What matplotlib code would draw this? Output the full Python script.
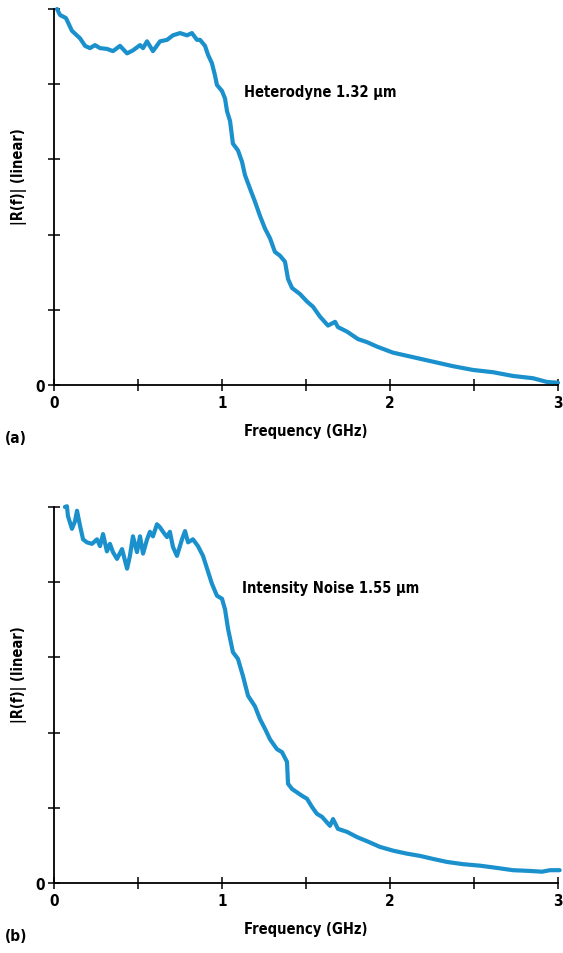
import numpy as np
import matplotlib.pyplot as plt

# Heterodyne 1.32 um response (GHz, linear units)
freq_a = [0.018, 0.036, 0.071, 0.107, 0.155, 0.185, 0.214, 0.244, 0.274, 0.315,
          0.351, 0.393, 0.435, 0.470, 0.512, 0.530, 0.554, 0.589, 0.631, 0.673,
          0.708, 0.750, 0.792, 0.821, 0.851, 0.869, 0.899, 0.917, 0.940, 0.958,
          0.970, 1.000, 1.018, 1.030, 1.048, 1.065, 1.095, 1.119, 1.137, 1.167,
          1.196, 1.226, 1.256, 1.286, 1.315, 1.345, 1.375, 1.393, 1.417, 1.464,
          1.506, 1.542, 1.583, 1.631, 1.673, 1.690, 1.744, 1.810, 1.863, 1.923,
          2.018, 2.137, 2.256, 2.375, 2.494, 2.613, 2.732, 2.851, 2.935, 3.000]
resp_a = [5.00, 4.92, 4.88, 4.71, 4.61, 4.51, 4.48, 4.52, 4.48, 4.47,
          4.44, 4.51, 4.41, 4.45, 4.52, 4.48, 4.57, 4.44, 4.57, 4.59,
          4.65, 4.68, 4.65, 4.68, 4.59, 4.59, 4.51, 4.39, 4.28, 4.12,
          3.99, 3.91, 3.81, 3.64, 3.51, 3.21, 3.12, 2.97, 2.79, 2.61,
          2.44, 2.25, 2.08, 1.95, 1.77, 1.72, 1.64, 1.41, 1.29, 1.21,
          1.11, 1.04, 0.91, 0.79, 0.84, 0.77, 0.71, 0.61, 0.57, 0.51,
          0.43, 0.37, 0.31, 0.25, 0.20, 0.17, 0.12, 0.09, 0.04, 0.03]

# Intensity noise 1.55 um response
freq_b = [0.065, 0.077, 0.083, 0.107, 0.125, 0.137, 0.155, 0.173, 0.196, 0.226,
          0.256, 0.274, 0.292, 0.315, 0.333, 0.351, 0.375, 0.405, 0.435, 0.452,
          0.470, 0.494, 0.512, 0.530, 0.554, 0.571, 0.589, 0.613, 0.631, 0.649,
          0.673, 0.690, 0.708, 0.732, 0.762, 0.780, 0.798, 0.827, 0.857, 0.887,
          0.917, 0.940, 0.970, 1.000, 1.018, 1.036, 1.065, 1.095, 1.125, 1.155,
          1.196, 1.226, 1.256, 1.286, 1.327, 1.357, 1.387, 1.393, 1.417, 1.476,
          1.506, 1.536, 1.565, 1.595, 1.643, 1.661, 1.690, 1.744, 1.804, 1.869,
          1.940, 2.018, 2.101, 2.179, 2.256, 2.339, 2.435, 2.536, 2.637, 2.732,
          2.833, 2.905, 2.952, 3.010]
resp_b = [5.00, 5.01, 4.88, 4.71, 4.81, 4.95, 4.75, 4.57, 4.53, 4.51,
          4.57, 4.48, 4.64, 4.41, 4.51, 4.40, 4.31, 4.44, 4.18, 4.35,
          4.61, 4.40, 4.61, 4.38, 4.57, 4.67, 4.61, 4.77, 4.73, 4.67,
          4.60, 4.67, 4.47, 4.35, 4.57, 4.68, 4.53, 4.57, 4.48, 4.35,
          4.14, 3.98, 3.82, 3.78, 3.64, 3.38, 3.07, 2.98, 2.75, 2.49,
          2.35, 2.18, 2.05, 1.91, 1.78, 1.74, 1.61, 1.32, 1.25, 1.16,
          1.12, 1.01, 0.92, 0.88, 0.76, 0.85, 0.72, 0.68, 0.61, 0.55,
          0.48, 0.43, 0.39, 0.36, 0.32, 0.28, 0.25, 0.23, 0.20, 0.17,
          0.16, 0.15, 0.17, 0.17]

panels = [
    (freq_a, resp_a, "Heterodyne 1.32 µm", 1.13, 3.9, "(a)"),
    (freq_b, resp_b, "Intensity Noise 1.55 µm", 1.12, 3.93, "(b)"),
]

plt.rcParams['font.family'] = ['DejaVu Sans']
plt.rcParams['font.stretch'] = 'condensed'
plt.rcParams['font.weight'] = 'bold'

fig = plt.figure(figsize=(5.63, 9.54), dpi=100)
line_col = '#1a90cc'
boxes = [[0.0959, 0.5954, 0.8952, 0.3941], [0.0959, 0.0734, 0.8952, 0.3941]]

for box, (fx, ry, label, tx, ty, tag) in zip(boxes, panels):
    ax = fig.add_axes(box)
    ax.plot(fx, ry, color=line_col, lw=3, clip_on=False, solid_capstyle='round')
    ax.set_xlim(0, 3)
    ax.set_ylim(0, 5)
    for s in ['top', 'right']:
        ax.spines[s].set_visible(False)
    for s in ['left', 'bottom']:
        ax.spines[s].set_linewidth(1.3)
    ax.set_xticks([0, 0.5, 1, 1.5, 2, 2.5, 3])
    ax.set_xticklabels(['0', '', '1', '', '2', '', '3'])
    ax.set_yticks([0, 1, 2, 3, 4, 5])
    ax.set_yticklabels(['0', '', '', '', '', ''])
    ax.tick_params(direction='inout', length=9, width=1.1, labelsize=11, pad=3)
    ax.tick_params(axis='y', pad=2)
    ax.set_xlabel('Frequency (GHz)', fontsize=10.5, fontweight='bold', labelpad=9)
    ax.set_ylabel('|R(f)| (linear)', fontsize=10.5, fontweight='bold')
    ax.yaxis.set_label_coords(-0.053, 0.556)
    ax.text(tx, ty, label, fontsize=10.5, fontweight='bold', va='center')
    ax.text(-0.075, -0.14, tag, transform=ax.transAxes, fontsize=11,
            fontweight='bold', va='center', ha='center')

fig.savefig('out.png', dpi=100)
